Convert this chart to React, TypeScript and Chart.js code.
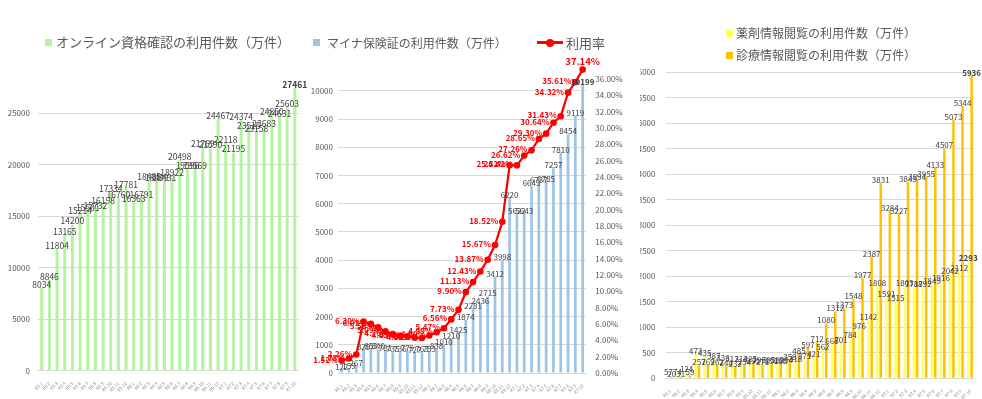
import React, { useEffect, useRef } from 'react';
import { Chart, registerables } from 'chart.js';
Chart.register(...registerables);

const FONT = "'Noto Sans CJK JP', 'Noto Sans', sans-serif";

const months = [
  'R5.1', 'R5.2', 'R5.3', 'R5.4', 'R5.5', 'R5.6', 'R5.7', 'R5.8', 'R5.9', 'R5.10', 'R5.11', 'R5.12',
  'R6.1', 'R6.2', 'R6.3', 'R6.4', 'R6.5', 'R6.6', 'R6.7', 'R6.8', 'R6.9', 'R6.10', 'R6.11', 'R6.12',
  'R7.1', 'R7.2', 'R7.3', 'R7.4', 'R7.5', 'R7.6', 'R7.7', 'R7.8', 'R7.9', 'R7.10',
];

const onlineCounts = [
  8034, 8846, 11804, 13165, 14200, 15214, 15501, 15732, 16198, 17334, 16760, 17781,
  16363, 16791, 18485, 18439, 18431, 18922, 20498, 19596, 19569, 21769, 21590, 24467,
  22118, 21195, 24374, 23515, 23158, 23683, 24850, 24631, 25603, 27461,
];

const mynaCounts = [
  122, 159, 267, 829, 853, 840, 781, 735, 736, 779, 727, 763,
  753, 838, 1010, 1210, 1425, 1874, 2281, 2436, 2715, 3412, 3998, 6220,
  5622, 5643, 6643, 6737, 6785, 7257, 7810, 8454, 9119, 10199,
];

const mynaRate = [
  1.52, 1.78, 2.26, 6.30, 6.01, 5.58, 5.09, 4.76, 4.55, 4.49, 4.33, 4.29,
  4.60, 4.99, 5.47, 6.56, 7.73, 9.90, 11.13, 12.43, 13.87, 15.67, 18.52, 25.42,
  25.42, 26.62, 27.26, 28.65, 29.30, 30.64, 31.43, 34.32, 35.61, 37.14,
];

const drugViews = [
  57, 74, 124, 473, 435, 387, 336, 312, 314, 325, 296, 305,
  309, 294, 318, 371, 421, 562, 668, 701, 784, 976, 1142, 1808,
  1591, 1515, 1803, 1788, 1792, 1849, 1916, 2042, 2112, 2293,
];

const clinicalViews = [
  20, 31, 59, 257, 269, 262, 244, 232, 254, 291, 271, 291,
  288, 358, 485, 597, 712, 1080, 1312, 1373, 1548, 1977, 2387, 3831,
  3284, 3227, 3843, 3894, 3955, 4133, 4507, 5073, 5344, 5936,
];

const onlineTicks = [0, 5000, 10000, 15000, 20000, 25000];
const mynaTicks = [0, 1000, 2000, 3000, 4000, 5000, 6000, 7000, 8000, 9000, 10000];
const rateTicks = [0, 2, 4, 6, 8, 10, 12, 14, 16, 18, 20, 22, 24, 26, 28, 30, 32, 34, 36];
const viewTicks = [0, 500, 1000, 1500, 2000, 2500, 3000, 3500, 4000, 4500, 5000, 5500, 6000];

const GREEN = '#b3f4a0';
const BLUE = '#9dc3e6';
const RED = '#ff0000';
const YELLOW = '#ffff66';
const ORANGE = '#ffc000';
const GRID = '#d9d9d9';
const TICK = '#595959';
const LABEL = '#404040';

type LabelSpec = {
  dataset: number;
  color: string;
  size: number;
  bold?: boolean;
  boldLast?: boolean;
  lastSize?: number;
  fmt: (v: number) => string;
  mode: 'top' | 'left';
};

function makeLabelPlugin(specs: LabelSpec[]) {
  return {
    id: 'valueLabels',
    afterDatasetsDraw(chart: any) {
      const ctx = chart.ctx;
      specs.forEach((s) => {
        const meta = chart.getDatasetMeta(s.dataset);
        const data = chart.data.datasets[s.dataset].data as number[];
        meta.data.forEach((el: any, i: number) => {
          const last = i === data.length - 1;
          const bold = s.bold || (last && s.boldLast);
          const size = last && s.lastSize ? s.lastSize : s.size;
          ctx.save();
          ctx.font = `${bold ? 'bold ' : ''}${size}px ${FONT}`;
          ctx.fillStyle = s.color;
          const text = s.fmt(data[i]);
          if (s.mode === 'top') {
            ctx.textAlign = 'center';
            ctx.textBaseline = 'bottom';
            ctx.fillText(text, el.x, el.y + 1);
          } else if (last) {
            ctx.textAlign = 'center';
            ctx.textBaseline = 'bottom';
            ctx.fillText(text, el.x, el.y - 3);
          } else {
            ctx.textAlign = 'right';
            ctx.textBaseline = 'middle';
            ctx.fillText(text, el.x - 4, el.y - 1);
          }
          ctx.restore();
        });
      });
    },
  };
}

function xScale(height: number) {
  return {
    grid: { display: false },
    border: { display: true, color: GRID },
    ticks: {
      autoSkip: false,
      maxRotation: 45,
      minRotation: 45,
      padding: 2,
      color: '#8c8c8c',
      font: { size: 4.5, family: FONT },
    },
    afterFit: (s: any) => {
      s.height = height;
    },
  };
}

function yScale(opts: {
  max: number;
  ticks: number[];
  width: number;
  padding: number;
  position?: string;
  fmt?: (v: number) => string;
  grid?: boolean;
}) {
  return {
    position: opts.position || 'left',
    min: 0,
    max: opts.max,
    grid: { display: opts.grid !== false, color: GRID, drawTicks: false },
    border: { display: false },
    ticks: {
      padding: opts.padding,
      color: TICK,
      font: { size: 8, family: FONT },
      callback: opts.fmt ? (v: any) => opts.fmt!(Number(v)) : (v: any) => String(v),
    },
    afterBuildTicks: (s: any) => {
      s.ticks = opts.ticks.map((v) => ({ value: v }));
    },
    afterFit: (s: any) => {
      s.width = opts.width;
    },
  };
}

function ChartBox(props: { left: number; width: number; height: number; build: () => any }) {
  const ref = useRef<HTMLCanvasElement>(null);
  useEffect(() => {
    const chart = new Chart(ref.current as HTMLCanvasElement, props.build());
    return () => chart.destroy();
  }, []);
  return (
    <canvas
      ref={ref}
      width={props.width}
      height={props.height}
      style={{ position: 'absolute', left: props.left, top: 0, width: props.width, height: props.height }}
    />
  );
}

const baseOptions = {
  responsive: false,
  maintainAspectRatio: false,
  animation: false,
  devicePixelRatio: 1,
  events: [],
};

function buildPanel1() {
  return {
    type: 'bar',
    data: {
      labels: months,
      datasets: [
        {
          label: 'オンライン資格確認の利用件数（万件）',
          data: onlineCounts,
          backgroundColor: GREEN,
          categoryPercentage: 1,
          barPercentage: 0.39,
        },
      ],
    },
    options: {
      ...baseOptions,
      layout: { padding: { top: 82.4, right: 11.4, left: 0, bottom: 0 } },
      plugins: { legend: { display: false }, tooltip: { enabled: false } },
      scales: {
        x: xScale(28.3),
        y: yScale({ max: 28000, ticks: onlineTicks, width: 37.9, padding: 8 }),
      },
    },
    plugins: [
      makeLabelPlugin([
        { dataset: 0, color: LABEL, size: 8.5, boldLast: true, fmt: (v) => String(v), mode: 'top' },
      ]),
    ],
  };
}

function buildPanel2() {
  return {
    type: 'bar',
    data: {
      labels: months,
      datasets: [
        {
          type: 'line',
          label: '利用率',
          data: mynaRate,
          yAxisID: 'y1',
          borderColor: RED,
          backgroundColor: RED,
          borderWidth: 2.25,
          pointRadius: 3.3,
          pointBackgroundColor: RED,
          pointBorderWidth: 0,
          tension: 0,
          order: 0,
        },
        {
          type: 'bar',
          label: 'マイナ保険証の利用件数（万件）',
          data: mynaCounts,
          yAxisID: 'y',
          backgroundColor: BLUE,
          categoryPercentage: 1,
          barPercentage: 0.37,
          order: 1,
        },
      ],
    },
    options: {
      ...baseOptions,
      layout: { padding: { top: 62.6, right: 0, left: 0, bottom: 0 } },
      plugins: { legend: { display: false }, tooltip: { enabled: false } },
      scales: {
        x: xScale(26),
        y: yScale({ max: 11000, ticks: mynaTicks, width: 28, padding: 5 }),
        y1: yScale({
          max: 38,
          ticks: rateTicks,
          width: 53.7,
          padding: 9,
          position: 'right',
          grid: false,
          fmt: (v) => v.toFixed(2) + '%',
        }),
      },
    },
    plugins: [
      makeLabelPlugin([
        { dataset: 1, color: LABEL, size: 8, boldLast: true, fmt: (v) => String(v), mode: 'top' },
        {
          dataset: 0,
          color: RED,
          size: 8,
          bold: true,
          lastSize: 9.5,
          fmt: (v) => v.toFixed(2) + '%',
          mode: 'left',
        },
      ]),
    ],
  };
}

function buildPanel3() {
  return {
    type: 'bar',
    data: {
      labels: months,
      datasets: [
        {
          label: '薬剤情報閲覧の利用件数（万件）',
          data: drugViews,
          backgroundColor: YELLOW,
          categoryPercentage: 0.73,
          barPercentage: 0.75,
        },
        {
          label: '診療情報閲覧の利用件数（万件）',
          data: clinicalViews,
          backgroundColor: ORANGE,
          categoryPercentage: 0.73,
          barPercentage: 0.75,
        },
      ],
    },
    options: {
      ...baseOptions,
      layout: { padding: { top: 72.3, right: 7.5, left: 0, bottom: 0 } },
      plugins: { legend: { display: false }, tooltip: { enabled: false } },
      scales: {
        x: xScale(20.7),
        y: yScale({ max: 6000, ticks: viewTicks, width: 25.5, padding: 10 }),
      },
    },
    plugins: [
      makeLabelPlugin([
        { dataset: 0, color: LABEL, size: 8, boldLast: true, fmt: (v) => String(v), mode: 'top' },
        { dataset: 1, color: LABEL, size: 8, boldLast: true, fmt: (v) => String(v), mode: 'top' },
      ]),
    ],
  };
}

function LegendText(props: { left: number; cy: number; size: number; text: string }) {
  return (
    <div
      style={{
        position: 'absolute',
        left: props.left,
        top: props.cy - 10,
        height: 20,
        lineHeight: '20px',
        fontSize: props.size,
        color: TICK,
        fontFamily: FONT,
        whiteSpace: 'nowrap',
      }}
    >
      {props.text}
    </div>
  );
}

function Swatch(props: { left: number; cy: number; color: string }) {
  return (
    <div
      style={{
        position: 'absolute',
        left: props.left,
        top: props.cy - 3.5,
        width: 7,
        height: 7,
        background: props.color,
      }}
    />
  );
}

export default function App() {
  return (
    <div
      style={{
        position: 'absolute',
        left: 0,
        top: 0,
        width: 982,
        height: 399,
        background: '#ffffff',
        overflow: 'hidden',
      }}
    >
      <ChartBox left={0} width={310} height={399} build={buildPanel1} />
      <ChartBox left={310} width={330} height={399} build={buildPanel2} />
      <ChartBox left={640} width={342} height={399} build={buildPanel3} />

      <Swatch left={45} cy={42} color={GREEN} />
      <LegendText left={56} cy={42} size={13} text="オンライン資格確認の利用件数（万件）" />

      <Swatch left={313} cy={42.5} color={BLUE} />
      <LegendText left={327} cy={42.5} size={12} text="マイナ保険証の利用件数（万件）" />
      <div
        style={{
          position: 'absolute',
          left: 537,
          top: 41.3,
          width: 26,
          height: 2.5,
          background: RED,
        }}
      />
      <div
        style={{
          position: 'absolute',
          left: 546,
          top: 38.5,
          width: 8,
          height: 8,
          borderRadius: 4,
          background: RED,
        }}
      />
      <LegendText left={566} cy={42.5} size={13} text="利用率" />

      <Swatch left={726} cy={33} color={YELLOW} />
      <LegendText left={736} cy={33} size={12} text="薬剤情報閲覧の利用件数（万件）" />
      <Swatch left={726} cy={55} color={ORANGE} />
      <LegendText left={736} cy={55} size={12} text="診療情報閲覧の利用件数（万件）" />
    </div>
  );
}
